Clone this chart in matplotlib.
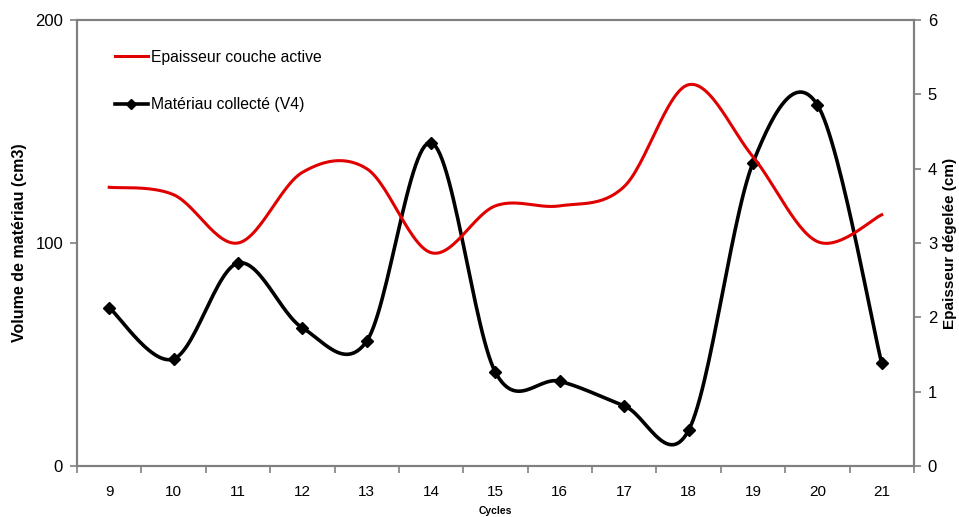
import matplotlib.pyplot as plt
import numpy as np

plt.rcParams['font.family'] = ['Liberation Sans', 'DejaVu Sans']

# Données
cycles = [9, 10, 11, 12, 13, 14, 15, 16, 17, 18, 19, 20, 21]
materiau = [71, 48, 91, 62, 56, 145, 42, 38, 27, 16, 136, 162, 46]          # cm3 (axe gauche)
epaisseur = [3.75, 3.65, 3.0, 3.95, 4.0, 2.87, 3.5, 3.5, 3.76, 5.13, 4.16, 3.02, 3.38]  # cm (axe droit)


def lisser(x, y, n=30):
    # courbe lissée façon Excel (Catmull-Rom en Bézier)
    p = np.column_stack([x, y]).astype(float)
    morceaux = []
    t = np.linspace(0, 1, n)[:, None]
    for i in range(len(p) - 1):
        p0 = p[i - 1] if i > 0 else p[i]
        p1, p2 = p[i], p[i + 1]
        p3 = p[i + 2] if i + 2 < len(p) else p[i + 1]
        c1 = p1 + (p2 - p0) / 6
        c2 = p2 - (p3 - p1) / 6
        seg = (1 - t) ** 3 * p1 + 3 * (1 - t) ** 2 * t * c1 + 3 * (1 - t) * t ** 2 * c2 + t ** 3 * p2
        morceaux.append(seg if i == 0 else seg[1:])
    s = np.vstack(morceaux)
    return s[:, 0], s[:, 1]


fig = plt.figure(figsize=(9.59, 5.17), dpi=100)
ax = fig.add_axes([0.0803, 0.0986, 0.8727, 0.8627])
ax2 = ax.twinx()

gris = '#808080'

# Epaisseur (axe droit), courbe rouge
xs, ys = lisser(cycles, epaisseur)
l1, = ax2.plot(xs, ys, color='#e00000', lw=2.2, label='Epaisseur couche active')

# Matériau collecté (axe gauche), courbe noire avec losanges
xs, ys = lisser(cycles, materiau)
ax.plot(xs, ys, color='black', lw=2.6, zorder=3)
ax.plot(cycles, materiau, ls='none', marker='D', ms=6, color='black', zorder=4)
l2, = ax.plot([], [], color='black', lw=2.6, marker='D', ms=5, label='Matériau collecté (V4)')

ax.set_xlim(8.5, 21.5)
ax.set_ylim(0, 200)
ax2.set_ylim(0, 6)
ax.set_yticks([0, 100, 200])
ax2.set_yticks(range(7))
ax.set_xticks(cycles)
ax.set_xticks(np.arange(8.5, 22, 1), minor=True)
ax.tick_params(axis='x', which='major', length=0, pad=14, labelsize=11)
ax.tick_params(axis='x', which='minor', length=5, direction='out', color=gris, width=1.2)
ax.tick_params(axis='y', length=5, color=gris, width=1.2, labelsize=12, pad=5)
ax2.tick_params(axis='y', length=5, color=gris, width=1.2, labelsize=12, pad=5)

for a in (ax, ax2):
    for s in a.spines.values():
        s.set_color(gris)
        s.set_linewidth(1.5)

ax.set_ylabel('Volume de matériau (cm3)', fontsize=11.5, fontweight='bold', labelpad=6)
ax2.set_ylabel('Epaisseur dégelée (cm)', fontsize=11, fontweight='bold', labelpad=4)
ax.set_xlabel('Cycles', fontsize=7.5, fontweight='bold', labelpad=5)

ax2.legend(handles=[l1, l2], loc='upper left', bbox_to_anchor=(0.028, 0.965),
           frameon=False, fontsize=11.3, handlelength=2.1, handletextpad=0.2,
           labelspacing=2.06)

fig.savefig('out.png', dpi=100)
